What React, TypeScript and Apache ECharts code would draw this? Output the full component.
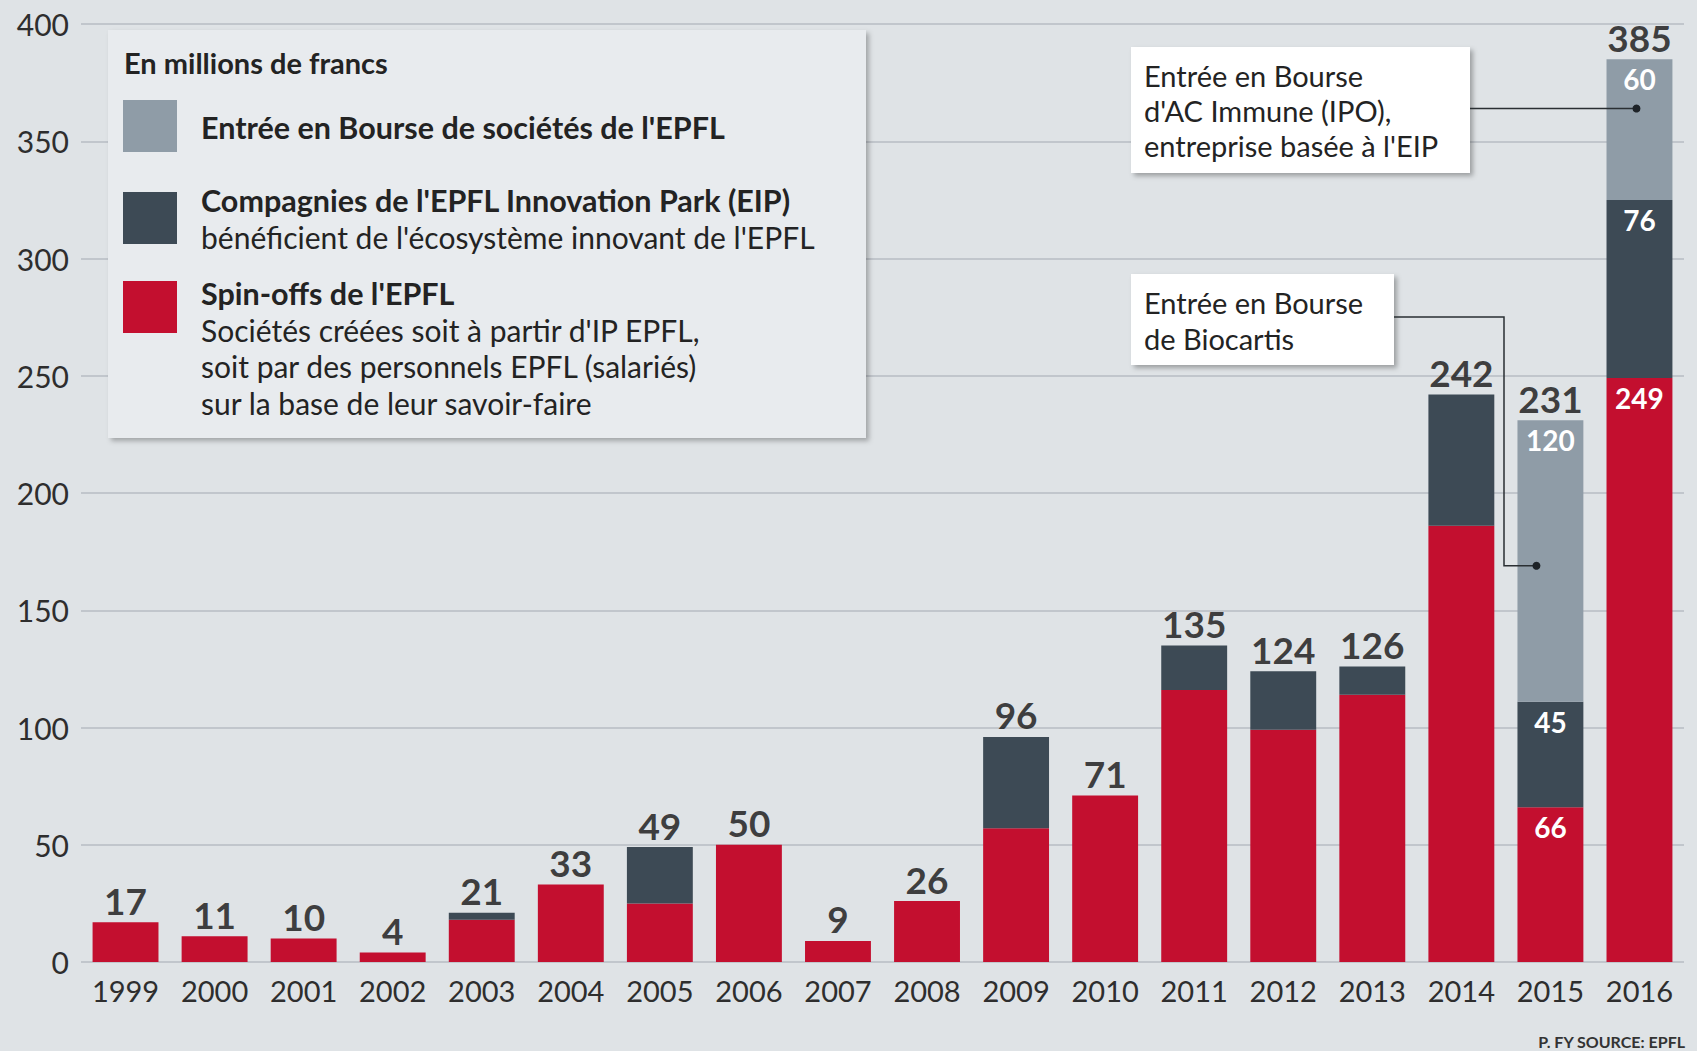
import React, { useEffect, useRef } from "react";
import * as echarts from "echarts";

const years = ["1999","2000","2001","2002","2003","2004","2005","2006","2007","2008","2009","2010","2011","2012","2013","2014","2015","2016"];
const spinOffs = [17, 11, 10, 4, 18, 33, 25, 50, 9, 26, 57, 71, 116, 99, 114, 186, 66, 249];
const eipCompanies = [0, 0, 0, 0, 3, 0, 24, 0, 0, 0, 39, 0, 19, 25, 12, 56, 45, 76];
const ipoValues = [0, 0, 0, 0, 0, 0, 0, 0, 0, 0, 0, 0, 0, 0, 0, 0, 120, 60];
const insideLabelYears = ["2015", "2016"];

const RED = "#c30f2f";
const DARK = "#3d4a55";
const LIGHT = "#8f9ca7";
const BG = "#dfe3e6";
const FONT = "Lato, 'Open Sans', sans-serif";
const TXT = "#232323";

const legendTitle = "En millions de francs";
const legendItems = [
  { color: LIGHT, bold: "Entrée en Bourse de sociétés de l'EPFL", lines: [] as string[] },
  { color: DARK, bold: "Compagnies de l'EPFL Innovation Park (EIP)", lines: ["bénéficient de l'écosystème innovant de l'EPFL"] },
  { color: RED, bold: "Spin-offs de l'EPFL", lines: ["Sociétés créées soit à partir d'IP EPFL,", "soit par des personnels EPFL (salariés)", "sur la base de leur savoir-faire"] },
];
const note1 = ["Entrée en Bourse", "d'AC Immune (IPO),", "entreprise basée à l'EIP"];
const note2 = ["Entrée en Bourse", "de Biocartis"];
const sourceText = "P. FY SOURCE: EPFL";

function segData(values: number[]) {
  return values.map((v, i) => {
    const inside = insideLabelYears.includes(years[i]);
    return {
      value: v === 0 ? null : v,
      label: { show: inside && v > 0 },
    };
  });
}

export default function App() {
  const ref = useRef<HTMLDivElement>(null);
  useEffect(() => {
    document.body.style.margin = "0";
    document.body.style.background = BG;
    const chart = echarts.init(ref.current!, null, { renderer: "svg" });
    const totals = years.map((_, i) => spinOffs[i] + eipCompanies[i] + ipoValues[i]);
    const insideLabel = {
      position: "insideTop" as const,
      distance: 6,
      color: "#ffffff",
      fontSize: 28,
      fontWeight: "bold" as const,
      fontFamily: FONT,
    };
    const option: any = {
      animation: false,
      backgroundColor: BG,
      grid: { left: 81, right: 13, top: 24, bottom: 89, containLabel: false },
      xAxis: {
        type: "category",
        data: years,
        axisLine: { show: false },
        axisTick: { show: false },
        axisLabel: { color: "#2e2e2e", fontSize: 29, fontFamily: FONT, margin: 14 },
      },
      yAxis: {
        type: "value",
        min: 0,
        max: 400,
        interval: 50,
        axisLine: { show: false },
        axisTick: { show: false },
        axisLabel: { color: "#2e2e2e", fontSize: 30, fontFamily: FONT, margin: 12 },
        splitLine: { lineStyle: { color: "#b7bdc3", width: 1.5 } },
      },
      series: [
        {
          name: "Spin-offs de l'EPFL",
          type: "bar",
          stack: "t",
          barWidth: "74%",
          itemStyle: { color: RED },
          label: insideLabel,
          data: segData(spinOffs),
        },
        {
          name: "Compagnies de l'EPFL Innovation Park (EIP)",
          type: "bar",
          stack: "t",
          barWidth: "74%",
          itemStyle: { color: DARK },
          label: insideLabel,
          data: segData(eipCompanies),
        },
        {
          name: "Entrée en Bourse de sociétés de l'EPFL",
          type: "bar",
          stack: "t",
          barWidth: "74%",
          itemStyle: { color: LIGHT },
          label: insideLabel,
          data: segData(ipoValues),
        },
        {
          name: "Total",
          type: "scatter",
          symbolSize: 1,
          itemStyle: { color: "rgba(0,0,0,0)" },
          label: {
            show: true,
            position: "top",
            distance: 3,
            color: "#111111",
            fontSize: 37,
            fontWeight: "bold",
            fontFamily: FONT,
          },
          data: totals,
          z: 5,
        },
      ],
    };
    chart.setOption(option);

    const g: any[] = [];
    // Legend panel
    g.push({
      type: "rect",
      shape: { x: 108, y: 30, width: 758, height: 408 },
      style: { fill: "#e8ebee", shadowBlur: 5, shadowOffsetX: 3, shadowOffsetY: 3, shadowColor: "rgba(0,0,0,0.28)" },
      z: 10,
    });
    g.push({
      type: "text",
      x: 124, y: 62,
      style: { text: legendTitle, fill: TXT, font: `bold 29px ${FONT}`, verticalAlign: "middle" },
      z: 11,
    });
    const swatchY = [100, 192, 281];
    const textY = [127, 200, 293];
    const LH = 36.5;
    legendItems.forEach((it, k) => {
      g.push({
        type: "rect",
        shape: { x: 123, y: swatchY[k], width: 54, height: 52 },
        style: { fill: it.color },
        z: 11,
      });
      const txt = [`{b|${it.bold}}`, ...it.lines.map((l) => `{r|${l}}`)].join("\n");
      g.push({
        type: "text",
        x: 201, y: textY[k] - LH / 2,
        style: {
          text: txt,
          verticalAlign: "top",
          fill: TXT,
          rich: {
            b: { fontFamily: FONT, fontWeight: "bold", fontSize: 30.5, lineHeight: LH, fill: TXT, color: TXT },
            r: { fontFamily: FONT, fontWeight: "normal", fontSize: 30, lineHeight: LH, fill: TXT, color: TXT },
          },
        },
        z: 11,
      });
    });

    // Annotation boxes
    const shadow = { shadowBlur: 5, shadowOffsetX: 3, shadowOffsetY: 3, shadowColor: "rgba(0,0,0,0.3)" };
    g.push({ type: "rect", shape: { x: 1131, y: 47, width: 339, height: 126 }, style: { fill: "#ffffff", ...shadow }, z: 10 });
    g.push({
      type: "text", x: 1144, y: 75 - 17.5,
      style: { text: note1.join("\n"), fill: TXT, fontFamily: FONT, fontSize: 29, lineHeight: 35, verticalAlign: "top" },
      z: 11,
    });
    g.push({ type: "rect", shape: { x: 1131, y: 274, width: 263, height: 91 }, style: { fill: "#ffffff", ...shadow }, z: 10 });
    g.push({
      type: "text", x: 1144, y: 302 - 18,
      style: { text: note2.join("\n"), fill: TXT, fontFamily: FONT, fontSize: 29, lineHeight: 36, verticalAlign: "top" },
      z: 11,
    });

    const p1 = chart.convertToPixel({ gridIndex: 0 }, ["2016", 364]) as number[];
    const p2 = chart.convertToPixel({ gridIndex: 0 }, ["2015", 169]) as number[];
    const dot1 = [p1[0] - 3, p1[1]];
    const dot2 = [p2[0] - 14, p2[1]];
    g.push({ type: "line", shape: { x1: 1470, y1: dot1[1], x2: dot1[0], y2: dot1[1] }, style: { stroke: "#2a2f33", lineWidth: 1.5 }, z: 12 });
    g.push({ type: "circle", shape: { cx: dot1[0], cy: dot1[1], r: 4 }, style: { fill: "#1e2328" }, z: 12 });
    g.push({
      type: "polyline",
      shape: { points: [[1394, 317], [1504, 317], [1504, dot2[1]], [dot2[0], dot2[1]]] },
      style: { stroke: "#2a2f33", lineWidth: 1.5, fill: null },
      z: 12,
    });
    g.push({ type: "circle", shape: { cx: dot2[0], cy: dot2[1], r: 4 }, style: { fill: "#1e2328" }, z: 12 });

    g.push({
      type: "text",
      x: 1685, y: 1041,
      style: { text: sourceText, fill: "#333", font: `bold 16px ${FONT}`, align: "right", verticalAlign: "middle" },
      z: 11,
    });

    chart.setOption({ graphic: g });
    return () => chart.dispose();
  }, []);
  return <div ref={ref} style={{ width: 1697, height: 1051 }} />;
}
